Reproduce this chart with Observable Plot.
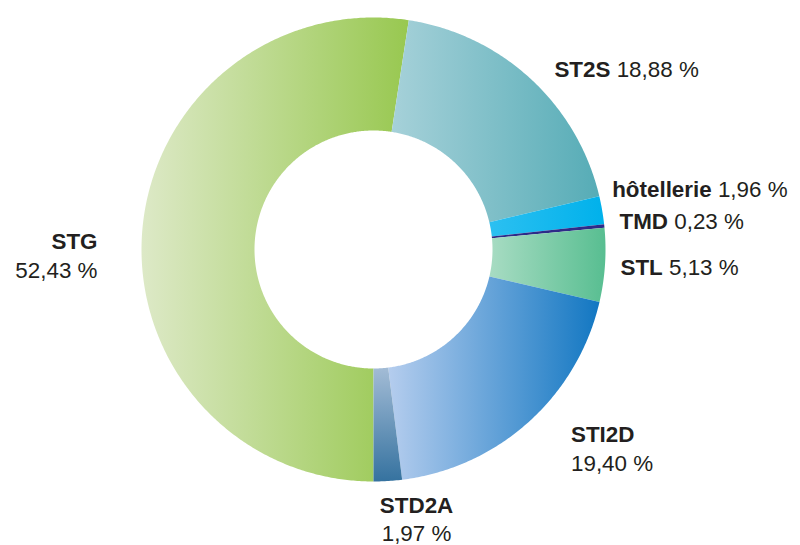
<!DOCTYPE html>
<html>
<head>
<meta charset="utf-8">
<script src="https://cdn.jsdelivr.net/npm/d3@7"></script>
<script src="https://cdn.jsdelivr.net/npm/@observablehq/plot@0.6"></script>
<style>
  html, body { margin: 0; padding: 0; background: #fff; }
  #chart svg { display: block; }
</style>
</head>
<body>
<div id="chart"></div>
<script>
// ---- data ----
const categories = ["STG", "ST2S", "hôtellerie", "TMD", "STL", "STI2D", "STD2A"];
const shares = [52.43, 18.88, 1.96, 0.23, 5.13, 19.40, 1.97];

// ---- styles ----
const gradientStops = [
  ["#dde9c7", "#98c850"],
  ["#a6d1d9", "#56acb6"],
  ["#2cc0f1", "#00b1eb"],
  ["#2e2b88", "#2e2b88"],
  ["#a8dcc3", "#58be91"],
  ["#b5cdee", "#1277c2"],
  ["#a3bcd6", "#35729f"]
];
const gradientVertical = [false, false, false, false, false, false, true];
// label layout: offset (px) from the outer edge at the slice mid-angle
const labelLayout = [
  { dx: -44.7, dy: 9.7, anchor: "end", twoLine: true, gap: 29 },
  { dx: 23.5, dy: -9.6, anchor: "start", twoLine: false },
  { dx: 10, dy: -20.7, anchor: "start", twoLine: false },
  { dx: 15.2, dy: -4.5, anchor: "start", twoLine: false },
  { dx: 15.5, dy: 3, anchor: "start", twoLine: false },
  { dx: 42.2, dy: 13.3, anchor: "start", twoLine: true, gap: 28.5 },
  { dx: 28.7, dy: 24.4, anchor: "middle", twoLine: true, gap: 28 }
];
const innerRatio = 119 / 232;
const startAngle = Math.PI; // first slice starts at the bottom, clockwise

// ---- geometry from data ----
const total = d3.sum(shares);
let acc = 0;
const slices = categories.map((name, i) => {
  const a0 = startAngle + (acc / total) * 2 * Math.PI;
  acc += shares[i];
  const a1 = startAngle + (acc / total) * 2 * Math.PI;
  return { name, share: shares[i], i, a0, a1, mid: (a0 + a1) / 2 };
});
const pt = (a, r) => ({ x: r * Math.sin(a), y: r * Math.cos(a) });
const slicePoints = [];
for (const s of slices) {
  const n = Math.max(2, Math.ceil(((s.a1 - s.a0) * 180) / Math.PI * 2));
  for (let k = 0; k <= n; k++) {
    const a = s.a0 + ((s.a1 - s.a0) * k) / n;
    slicePoints.push({ key: s.name, fill: `url(#grad${s.i})`, ...pt(a, 1) });
  }
  for (let k = n; k >= 0; k--) {
    const a = s.a0 + ((s.a1 - s.a0) * k) / n;
    slicePoints.push({ key: s.name, fill: `url(#grad${s.i})`, ...pt(a, innerRatio) });
  }
}
const fmt = v => v.toFixed(2).replace(".", ",") + " %";
const labels = slices.map(s => ({
  name: s.name,
  value: fmt(s.share),
  ...pt(s.mid, 1),
  ...labelLayout[s.i]
}));

// gradient defs as a render-function mark
const defsMark = () => {
  const defs = d3.create("svg:defs");
  gradientStops.forEach((stops, i) => {
    const g = defs.append("linearGradient").attr("id", `grad${i}`)
      .attr("x1", 0).attr("y1", 0)
      .attr("x2", gradientVertical[i] ? 0 : 1).attr("y2", gradientVertical[i] ? 1 : 0);
    g.append("stop").attr("offset", "0%").attr("stop-color", stops[0]);
    g.append("stop").attr("offset", "100%").attr("stop-color", stops[1]);
  });
  return defs.node();
};

const plot = Plot.plot({
  width: 800,
  height: 545,
  margin: 0,
  x: { domain: [-1, 1], range: [141, 605], axis: null },
  y: { domain: [-1, 1], range: [481, 17], axis: null },
  color: { type: "identity" },
  style: { fontFamily: "'Liberation Sans', Arial, sans-serif", background: "#fff" },
  marks: [
    defsMark,
    Plot.line(slicePoints, { x: "x", y: "y", z: "key", fill: "fill", stroke: "none", curve: "linear-closed" }),
    ...labels.map(l => Plot.text([l], {
      x: "x", y: "y", text: "name", dx: l.dx, dy: l.dy,
      textAnchor: l.anchor, fontSize: 22.4, fill: "#231f20"
    }))
  ]
});

// mixed bold / regular label text
const ns = "http://www.w3.org/2000/svg";
const texts = plot.querySelectorAll('g[aria-label="text"] text');
texts.forEach((t, i) => {
  const l = labels[i];
  if (!l) return;
  const xAttr = t.getAttribute("x");
  t.textContent = "";
  const a = document.createElementNS(ns, "tspan");
  a.setAttribute("font-weight", "bold");
  a.textContent = l.name;
  t.appendChild(a);
  const b = document.createElementNS(ns, "tspan");
  if (l.twoLine) {
    b.setAttribute("x", xAttr != null ? xAttr : 0);
    b.setAttribute("dy", l.gap);
    b.textContent = l.value;
  } else {
    b.textContent = " " + l.value;
  }
  t.appendChild(b);
});

document.getElementById("chart").appendChild(plot);
</script>
</body>
</html>
